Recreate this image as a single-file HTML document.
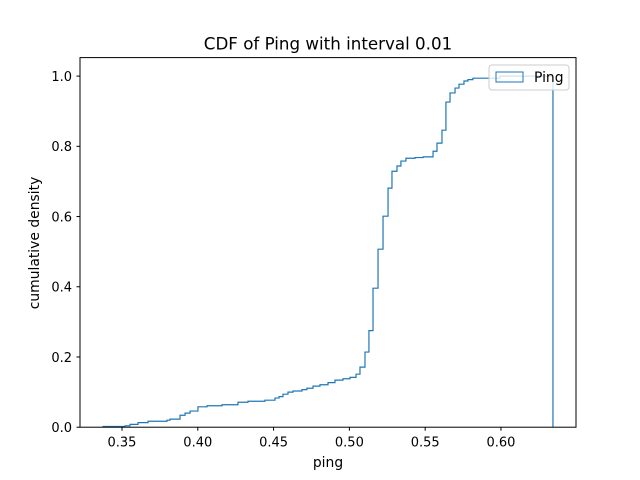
<!DOCTYPE html>
<html><head><meta charset="utf-8"><style>
body{margin:0;background:#fff;}
svg{display:block;font-family:"DejaVu Sans","Liberation Sans",sans-serif;}
</style></head><body>
<svg width="640" height="480" xmlns="http://www.w3.org/2000/svg">
<rect width="640" height="480" fill="#fff"/>
<text x="328" y="49.5" font-size="16.7" text-anchor="middle">CDF of Ping with interval 0.01</text>
<g id="plot"></g>
<rect x="80" y="57.6" width="496" height="369.6" fill="none" stroke="#000" stroke-width="1"/>
<text x="328" y="467" font-size="13.9" text-anchor="middle">ping</text>
<text transform="translate(39,243) rotate(-90)" font-size="13.9" text-anchor="middle">cumulative density</text>
<g>
<rect x="489" y="65" width="80" height="25" rx="3" fill="#fff" fill-opacity="0.8" stroke="#ccc"/>
<rect x="496" y="72" width="27" height="10" fill="none" stroke="#1f77b4" stroke-width="1"/>
<text x="534" y="82" font-size="13.9">Ping</text>
</g>
</svg>
<script>
const edges=[0.3375,0.3520,0.3553,0.3606,0.3672,0.3797,0.3817,0.3883,0.3916,0.3949,0.4001,0.4061,0.4160,0.4265,0.4331,0.4443,0.4509,0.4536,0.4562,0.4595,0.4628,0.4687,0.4720,0.4760,0.4806,0.4859,0.4905,0.4958,0.5004,0.5044,0.5070,0.5103,0.5129,0.5156,0.5189,0.5222,0.5255,0.5281,0.5314,0.5340,0.5373,0.5433,0.5486,0.5552,0.5578,0.5611,0.5637,0.5664,0.5697,0.5723,0.5756,0.5782,0.5815,0.5993,0.6343];
const cumValues=[0.002,0.004,0.008,0.013,0.017,0.02,0.023,0.034,0.04,0.046,0.058,0.061,0.064,0.071,0.074,0.077,0.083,0.087,0.094,0.1,0.103,0.107,0.111,0.117,0.121,0.127,0.134,0.138,0.142,0.151,0.171,0.214,0.275,0.396,0.507,0.601,0.681,0.729,0.744,0.758,0.766,0.768,0.77,0.786,0.809,0.846,0.926,0.952,0.966,0.977,0.986,0.99,0.994,1.0];
const xTicks=[0.35,0.40,0.45,0.50,0.55,0.60];
const xTickLabels=["0.35","0.40","0.45","0.50","0.55","0.60"];
const yTicks=[0,0.2,0.4,0.6,0.8,1.0];
const yTickLabels=["0.0","0.2","0.4","0.6","0.8","1.0"];
const NS="http://www.w3.org/2000/svg";
const X0=0.3223,X1=0.6495,Y0=0,Y1=1.0527;
const xs=v=>80+(v-X0)/(X1-X0)*496;
const ys=v=>427.2-(v-Y0)/(Y1-Y0)*369.6;
const g=document.getElementById('plot');
function mk(t,a){const e=document.createElementNS(NS,t);for(const k in a)e.setAttribute(k,a[k]);g.appendChild(e);return e;}
let d='M'+xs(edges[0])+','+ys(0);
const n=Math.min(cumValues.length,edges.length-1);
for(let i=0;i<n;i++){d+=' L'+xs(edges[i])+','+ys(cumValues[i])+' L'+xs(edges[i+1])+','+ys(cumValues[i]);}
d+=' L'+xs(edges[n])+','+ys(0);
const p=mk('path',{d:d,fill:'none',stroke:'#1f77b4','stroke-width':1.2});


xTicks.forEach((v,i)=>{const x=xs(v);
const l=mk('line',{x1:x,x2:x,y1:427.2,y2:430.7,stroke:'#000'});


const t=mk('text',{x:x,y:446.5,'font-size':13,'text-anchor':'middle'});t.textContent=xTickLabels[i];

});
yTicks.forEach((v,i)=>{const y=ys(v);
const l=mk('line',{x1:76.5,x2:80,y1:y,y2:y,stroke:'#000'});


const t=mk('text',{x:72,y:y+4.8,'font-size':13,'text-anchor':'end'});t.textContent=yTickLabels[i];

});
</script>
</body></html>
